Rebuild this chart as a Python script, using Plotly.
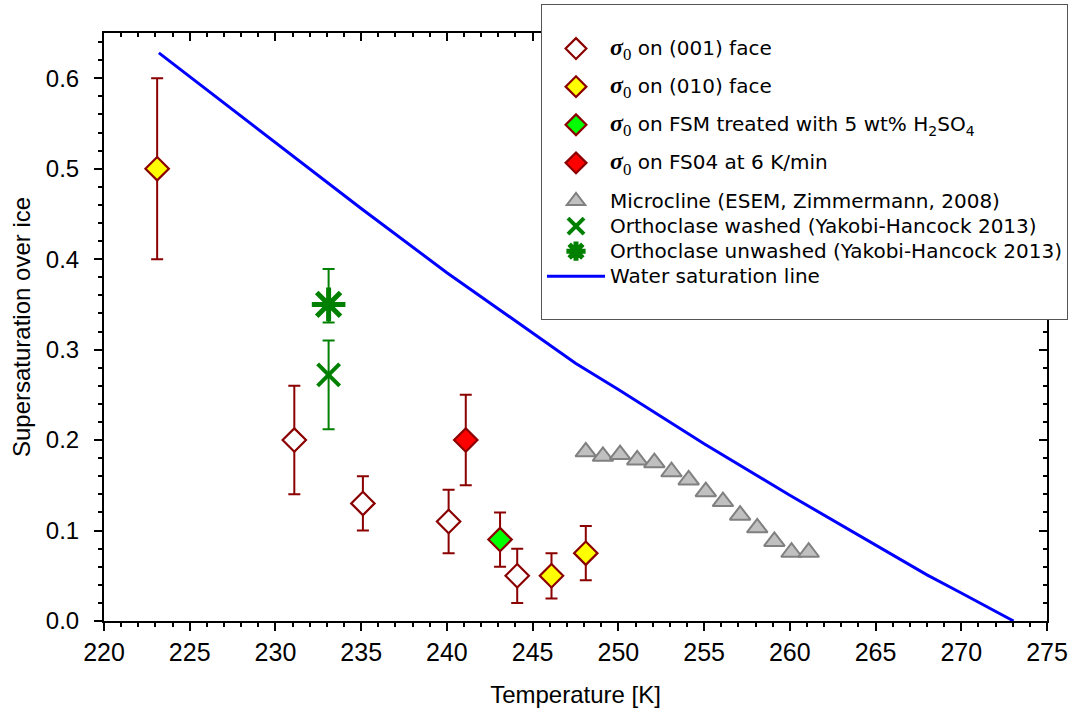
import plotly.graph_objects as go

# ---------------- data ----------------
face001_T = [231.1, 235.1, 240.1, 244.1]
face001_S = [0.20, 0.13, 0.11, 0.05]
face001_up = [0.06, 0.03, 0.035, 0.03]
face001_dn = [0.06, 0.03, 0.035, 0.03]

face010_T = [223.1, 246.1, 248.1]
face010_S = [0.50, 0.05, 0.075]
face010_up = [0.10, 0.025, 0.03]
face010_dn = [0.10, 0.025, 0.03]

fsm_T = [243.1]
fsm_S = [0.09]
fsm_up = [0.03]
fsm_dn = [0.03]

fs04_T = [241.1]
fs04_S = [0.20]
fs04_up = [0.05]
fs04_dn = [0.05]

micro_T = [248.1, 249.1, 250.1, 251.1, 252.1, 253.1, 254.1, 255.1, 256.1, 257.1, 258.1, 259.1, 260.1, 261.1]
micro_S = [0.187, 0.182, 0.184, 0.178, 0.175, 0.165, 0.156, 0.143, 0.132, 0.117, 0.103, 0.088, 0.076, 0.076]

washed_T = [233.1]
washed_S = [0.272]
washed_up = [0.038]
washed_dn = [0.060]

unwashed_T = [233.1]
unwashed_S = [0.350]
unwashed_up = [0.039]
unwashed_dn = [0.020]

water_T = [223.2, 230, 235, 240, 245, 247.5, 250, 255, 260, 265, 268, 270, 273.05]
water_S = [0.628, 0.529, 0.456, 0.385, 0.318, 0.285, 0.256, 0.196, 0.139, 0.084, 0.051, 0.031, 0.0]

x_ticks = [220, 225, 230, 235, 240, 245, 250, 255, 260, 265, 270, 275]
y_ticks = [0.0, 0.1, 0.2, 0.3, 0.4, 0.5, 0.6]

# ---------------- style ----------------
DR = "#8B0000"
GREEN = "#008000"
SIG = ("<span style='font-family:Liberation Serif, Times New Roman, serif;font-size:24px'>"
       "<b><i>σ</i></b><sub>0</sub></span>")


def big(txt):
    return "<span style='font-size:20px'>" + txt + "</span>"


fig = go.Figure()


def diamond_trace(T, S, up, dn, fill, name, grp):
    return go.Scatter(
        x=T, y=S, mode="markers", name=name, legendgroup=grp,
        marker=dict(symbol="diamond", size=18, color=fill, line=dict(color=DR, width=2.2)),
        error_y=dict(type="data", symmetric=False, array=up, arrayminus=dn,
                     color=DR, thickness=2, width=6),
    )


fig.add_trace(diamond_trace(face001_T, face001_S, face001_up, face001_dn, "white",
                            SIG + big(" on (001) face"), "g1"))
fig.add_trace(diamond_trace(face010_T, face010_S, face010_up, face010_dn, "#FFFF00",
                            SIG + big(" on (010) face"), "g2"))
fig.add_trace(diamond_trace(fsm_T, fsm_S, fsm_up, fsm_dn, "#00FF00",
                            SIG + big(" on FSM treated with 5 wt% H<sub>2</sub>SO<sub>4</sub>"), "g3"))
fig.add_trace(diamond_trace(fs04_T, fs04_S, fs04_up, fs04_dn, "#FF0000",
                            SIG + big(" on FS04 at 6 K/min"), "g4"))

fig.add_trace(go.Scatter(
    x=micro_T, y=micro_S, mode="markers", name=big("Microcline (ESEM, Zimmermann, 2008)"), legendgroup="g5",
    marker=dict(symbol="triangle-up", size=18, color="#C0C0C0", line=dict(color="#808080", width=2)),
))

fig.add_trace(go.Scatter(
    x=washed_T, y=washed_S, mode="markers", name=big("Orthoclase washed (Yakobi-Hancock 2013)"),
    legendgroup="g5",
    marker=dict(symbol="x-thin-open", size=22, color=GREEN, line=dict(color=GREEN, width=4)),
    error_y=dict(type="data", symmetric=False, array=washed_up, arrayminus=washed_dn,
                 color=GREEN, thickness=2, width=6),
))
fig.add_trace(go.Scatter(
    x=unwashed_T, y=unwashed_S, mode="markers", name=big("Orthoclase unwashed (Yakobi-Hancock 2013)"),
    legendgroup="g5",
    marker=dict(symbol="asterisk-open", size=28, color=GREEN, line=dict(color=GREEN, width=5)),
    error_y=dict(type="data", symmetric=False, array=unwashed_up, arrayminus=unwashed_dn,
                 color=GREEN, thickness=2, width=6),
))

fig.add_trace(go.Scatter(
    x=water_T, y=water_S, mode="lines", name=big("Water saturation line"), legendgroup="g5",
    line=dict(color="#0000FF", width=3),
))

# blank legend row for bottom padding of the legend box
fig.add_trace(go.Scatter(x=[None], y=[None], mode="lines", name="&nbsp;", legendgroup="g5",
                         line=dict(width=0, color="rgba(0,0,0,0)"), hoverinfo="skip"))

# empty helper trace for the mirrored (top/right) axes
fig.add_trace(go.Scatter(x=[None], y=[None], xaxis="x2", yaxis="y2", showlegend=False,
                         hoverinfo="skip", mode="markers"))

AX = dict(showline=True, linecolor="black", linewidth=2, zeroline=False, showgrid=False, automargin=False)

fig.update_layout(
    width=1071, height=708,
    margin=dict(l=104, r=24, t=33, b=87, autoexpand=False),
    paper_bgcolor="white", plot_bgcolor="white",
    font=dict(family="Liberation Sans, Arial, sans-serif", color="black"),
    xaxis=dict(
        **AX, range=[220, 275], tickvals=x_ticks, ticktext=[str(v) for v in x_ticks],
        ticks="outside", ticklen=8, tickwidth=2, tickcolor="black",
        minor=dict(ticks="outside", dtick=1, ticklen=4, tickwidth=1.5, tickcolor="black"),
        tickfont=dict(size=25, family="Liberation Sans Narrow, Arial Narrow, Liberation Sans, sans-serif"),
        title=dict(text="Temperature [K]", font=dict(size=24), standoff=26),
    ),
    yaxis=dict(
        **AX, range=[0, 0.65], tickvals=y_ticks, ticktext=[f"{v:.1f}" for v in y_ticks],
        ticks="outside", ticklen=8, tickwidth=2, tickcolor="black",
        minor=dict(ticks="outside", dtick=0.02, ticklen=4, tickwidth=1.5, tickcolor="black"),
        tickfont=dict(size=24), ticklabelstandoff=10,
        title=dict(text="Supersaturation over ice", font=dict(size=24), standoff=8),
    ),
    xaxis2=dict(
        **AX, range=[220, 275], overlaying="x", side="top", anchor="y",
        tickvals=x_ticks, showticklabels=False,
        ticks="inside", ticklen=8, tickwidth=2, tickcolor="black",
        minor=dict(ticks="inside", dtick=1, ticklen=4, tickwidth=1.5, tickcolor="black"),
    ),
    yaxis2=dict(
        **AX, range=[0, 0.65], overlaying="y", side="right", anchor="x",
        tickvals=y_ticks, showticklabels=False,
        ticks="inside", ticklen=8, tickwidth=2, tickcolor="black",
        minor=dict(ticks="inside", dtick=0.02, ticklen=4, tickwidth=1.5, tickcolor="black"),
    ),
    legend=dict(
        xref="container", yref="container",
        x=541 / 1071, y=1 - 4 / 708, xanchor="left", yanchor="top",
        bgcolor="white", bordercolor="#555555", borderwidth=1,
        font=dict(family="DejaVu Sans, Verdana, sans-serif", size=17),
        title=dict(text="&nbsp;", font=dict(size=20)),
        itemwidth=58, tracegroupgap=13,
    ),
    showlegend=True,
)

fig.write_html("out.html", config={"displayModeBar": False},
               post_script="document.body.style.margin='0px';")
